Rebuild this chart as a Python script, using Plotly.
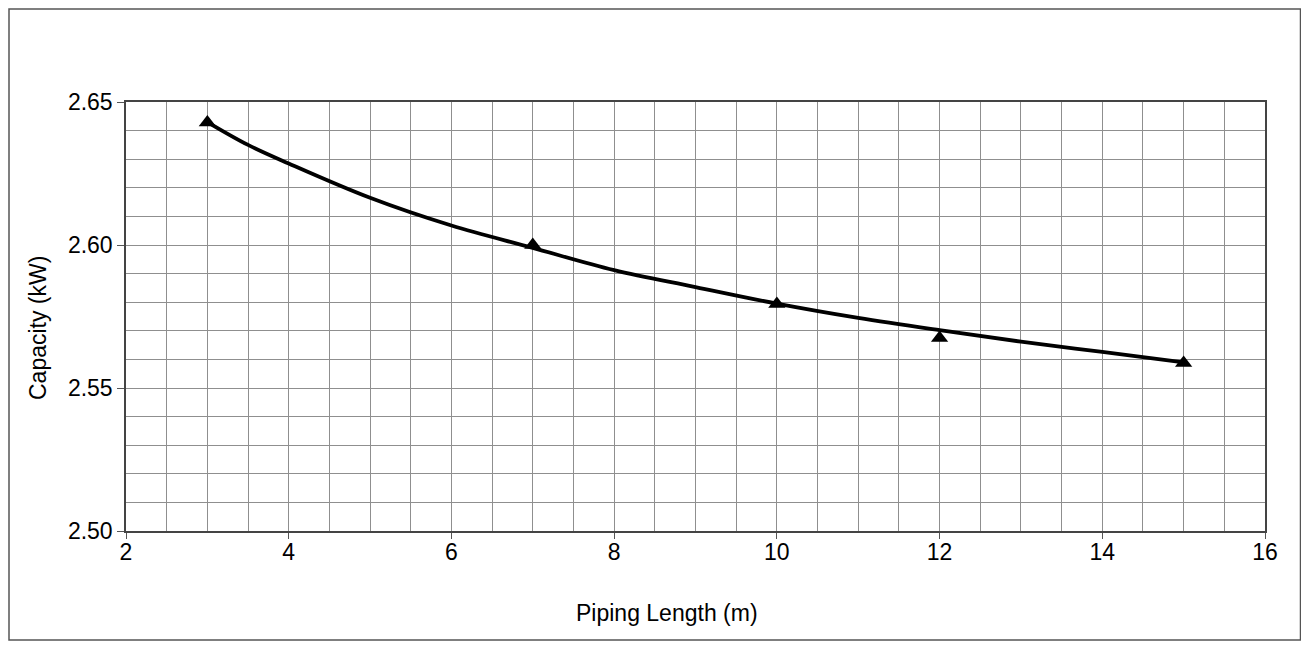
import plotly.graph_objects as go

# Measured points (triangles)
pipe_len = [3, 7, 10, 12, 15]
capacity = [2.6428, 2.6000, 2.5794, 2.5675, 2.5587]

# Trend curve
curve_x = [3, 3.5, 4, 5, 6, 7, 8, 9, 10, 11, 12, 13, 14, 15]
curve_y = [2.6430, 2.6350, 2.6285, 2.6165, 2.6068, 2.5990, 2.5912, 2.5853, 2.5795,
           2.5745, 2.5702, 2.5662, 2.5626, 2.5590]

x_ticks = [2, 4, 6, 8, 10, 12, 14, 16]
y_ticks = [2.50, 2.55, 2.60, 2.65]

# page body has an 8px margin; work in figure coordinates
O = 8
W, H = 1309 - O, 651 - O
L, R, T, B = 126 - O, 1265 - O, 102 - O, 531 - O
pw, ph = R - L, B - T

def px(xp):
    return (xp - O - L) / pw

def py(yp):
    return (B - (yp - O)) / ph

fig = go.Figure()
fig.add_trace(go.Scatter(x=curve_x, y=curve_y, mode="lines",
                         line=dict(color="black", width=3.8, shape="spline"),
                         showlegend=False, hoverinfo="skip"))
fig.add_trace(go.Scatter(x=pipe_len, y=capacity, mode="markers",
                         marker=dict(symbol="triangle-up", size=15, color="black"),
                         showlegend=False))

font = dict(family="Liberation Sans, Arial, sans-serif", size=23, color="black")
grid = "#8f8f8f"

fig.update_layout(
    width=W, height=H,
    margin=dict(l=L, r=W - R, t=T, b=H - B),
    paper_bgcolor="white", plot_bgcolor="white",
    font=font,
    xaxis=dict(range=[2, 16], tickvals=x_ticks, ticktext=[str(v) for v in x_ticks],
               showgrid=True, gridcolor=grid, gridwidth=1,
               minor=dict(dtick=0.5, tick0=2, showgrid=True, gridcolor=grid, gridwidth=1),
               ticks="outside", ticklen=6, tickcolor="#555", tickwidth=1,
               ticklabelstandoff=-6,
               showline=True, linecolor="#444", linewidth=1.5, mirror=True,
               zeroline=False, tickfont=font),
    yaxis=dict(range=[2.50, 2.65], tickvals=y_ticks, ticktext=[f"{v:.2f}" for v in y_ticks],
               showgrid=True, gridcolor=grid, gridwidth=1,
               minor=dict(dtick=0.01, tick0=2.5, showgrid=True, gridcolor=grid, gridwidth=1),
               ticks="outside", ticklen=7, tickcolor="#555", tickwidth=1,
               showline=True, linecolor="#444", linewidth=1.5, mirror=True,
               zeroline=False, tickfont=font),
    annotations=[
        dict(text="Piping Length (m)", xref="paper", yref="paper",
             x=px(667), y=py(613), showarrow=False, font=font,
             xanchor="center", yanchor="middle"),
        dict(text="Capacity (kW)", xref="paper", yref="paper",
             x=px(38), y=py(328), showarrow=False, font=font, textangle=-90,
             xanchor="center", yanchor="middle"),
    ],
    shapes=[
        dict(type="rect", xref="paper", yref="paper",
             x0=px(O + 1), x1=px(1300.5), y0=py(640), y1=py(O + 1),
             line=dict(color="#555", width=1.5), fillcolor="rgba(0,0,0,0)", layer="below"),
    ],
)

fig.write_html("out.html")
